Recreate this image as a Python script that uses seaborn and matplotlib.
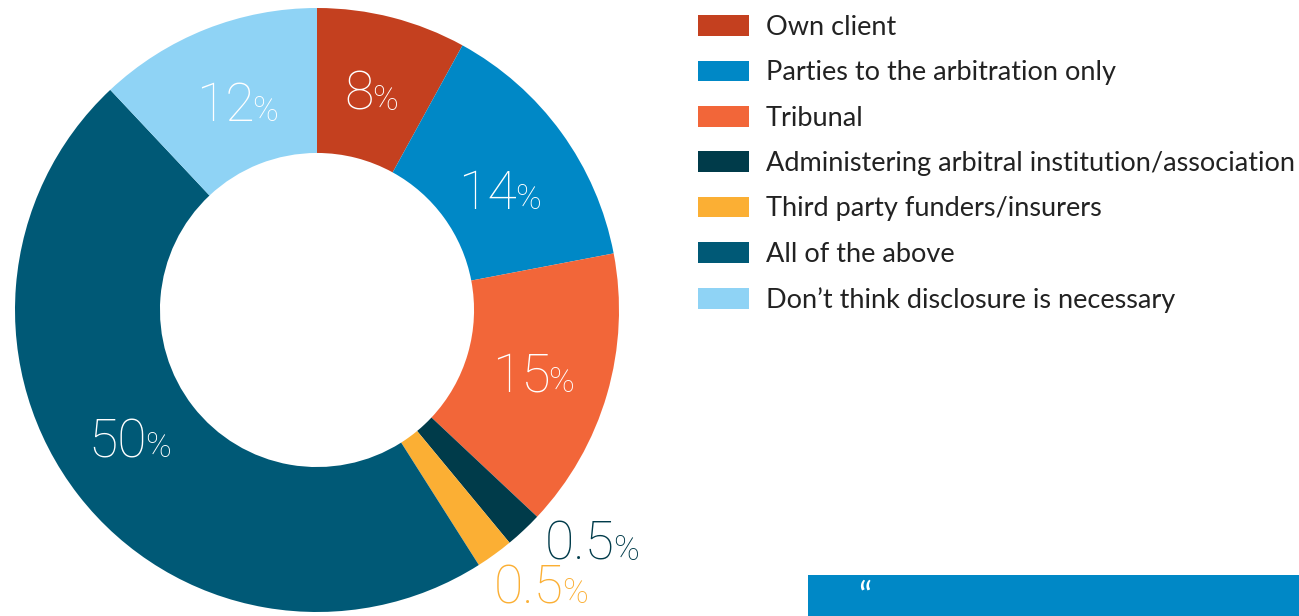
import matplotlib
matplotlib.use("Agg")
import matplotlib.pyplot as plt
import seaborn as sns
from matplotlib.patches import Rectangle

categories = ["Own client", "Parties to the arbitration only", "Tribunal",
              "Administering arbitral institution/association",
              "Third party funders/insurers", "All of the above",
              "Don\u2019t think disclosure is necessary"]
values = [8, 14, 15, 2, 2, 47, 12]
value_labels = ["8", "14", "15", "0.5", "0.5", "50", "12"]
colors = ["#C4401F", "#0088C6", "#F26639", "#003B4A", "#FBAF34", "#005976", "#8FD3F5"]

sns.set_theme(style="white")
plt.rcParams['font.family'] = ['Lato', 'DejaVu Sans']

fig = plt.figure(figsize=(12.99, 6.16), dpi=100)
ax = fig.add_axes([15/1299, 4/616, 604/1299, 604/616])
palette = sns.color_palette(colors)
wedges, _ = ax.pie(values, colors=palette, startangle=90, counterclock=False,
                   radius=1.0, wedgeprops=dict(width=0.48, linewidth=0))
ax.set_xlim(-1, 1)
ax.set_ylim(-1, 1)
ax.set_aspect('equal')
ax.axis('off')

# label anchor: (split x between number and %, baseline y) in pixels
label_px = [(373, 110), (516, 209), (549, 392), (614, 560), (563, 603), (146, 457), (253, 121)]
label_colors = ["white", "white", "white", "#003B4A", "#FBAF34", "white", "white"]
num_font = dict(family=['Roboto', 'DejaVu Sans'], fontweight='light')
for (px, py), num, col in zip(label_px, value_labels, label_colors):
    xd = (px - 317) / 302
    yd = (310 - py) / 302
    ax.text(xd + 0.004, yd, num, ha='right', va='baseline', fontsize=38.5,
            color=col, **num_font)
    ax.text(xd - 0.004, yd, "%", ha='left', va='baseline', fontsize=25,
            color=col, **num_font)

leg = fig.legend(wedges, categories, loc='upper left',
                 bbox_to_anchor=(690/1299, 1 - 7/616), frameon=False,
                 fontsize=19.5, handlelength=1.88, handleheight=0.81,
                 handletextpad=0.62, labelspacing=0.75, borderaxespad=0,
                 borderpad=0.3)
for txt in leg.get_texts():
    txt.set_color("#222222")

fig.patches.append(Rectangle((808/1299, 0), 491/1299, 41/616, transform=fig.transFigure,
                             facecolor="#0088C6", edgecolor='none', zorder=0))
fig.text(858/1299, 2/616, "\u201C", color="white", fontsize=26, ha='left', va='bottom')

fig.savefig("out.png", dpi=100)
